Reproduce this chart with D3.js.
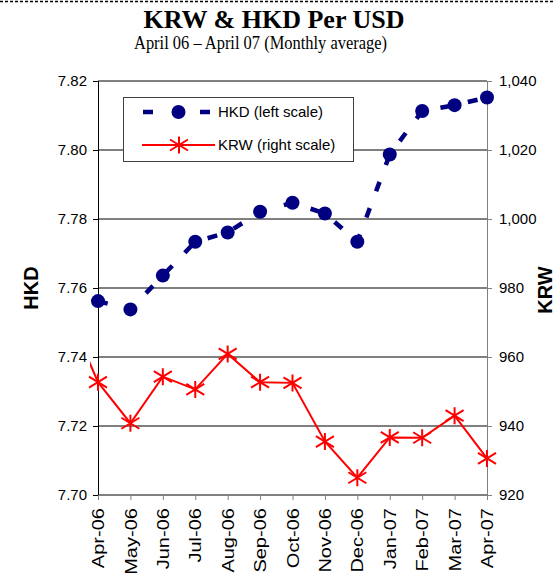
<!DOCTYPE html>
<html>
<head>
<meta charset="utf-8">
<script src="https://cdn.jsdelivr.net/npm/d3@7"></script>
<style>
  body { margin: 0; background: #fff; }
  svg { display: block; font-family: "Liberation Sans", Arial, sans-serif; }
</style>
</head>
<body>
<svg id="chart"></svg>
<script>
// months along the bottom
let months = ["Apr-06", "May-06", "Jun-06", "Jul-06", "Aug-06", "Sep-06", "Oct-06",
    "Nov-06", "Dec-06", "Jan-07", "Feb-07", "Mar-07", "Apr-07"];
// HKD per USD, left scale
let hkdValues = [7.7562, 7.7538, 7.7636, 7.7734, 7.7761, 7.7821, 7.7847,
    7.7816, 7.7734, 7.7987, 7.8113, 7.8130, 7.8152];
// KRW per USD, right scale
let krwValues = [952.7, 940.8, 954.3, 950.6, 960.9, 952.7, 952.5,
    935.5, 925.0, 936.7, 936.6, 943.0, 930.6];
// the KRW line comes in from Mar-06, just left of the plot
let krwPrevMonth = "Mar-06";
let krwPrevValue = 974.5;
let hkdTicks = [7.70, 7.72, 7.74, 7.76, 7.78, 7.80, 7.82];
let krwTicks = [920, 940, 960, 980, 1000, 1020, 1040];

let W = 555, H = 576;
let margin = {top: 81, right: 68, bottom: 81, left: 98};
let width = W - margin.left - margin.right;
let height = H - margin.top - margin.bottom;

let svgRoot = d3.select("#chart").attr("width", W).attr("height", H);

// dashed border on top
svgRoot.append("line")
    .attr("x1", 0).attr("x2", W).attr("y1", 1.5).attr("y2", 1.5)
    .attr("stroke", "#000").attr("stroke-width", 1.5)
    .attr("stroke-dasharray", "3,2");

svgRoot.append("text")
    .attr("x", 274).attr("y", 28)
    .attr("text-anchor", "middle")
    .attr("font-family", "'Liberation Serif', 'Times New Roman', serif")
    .attr("font-weight", "bold")
    .attr("font-size", 26)
    .text("KRW & HKD Per USD");

// subtitle is a bit condensed in the original
svgRoot.append("text")
    .attr("x", 260.5).attr("y", 49)
    .attr("text-anchor", "middle")
    .attr("font-family", "'Liberation Serif', 'Times New Roman', serif")
    .attr("font-size", 18.5)
    .attr("textLength", 253)
    .attr("lengthAdjust", "spacingAndGlyphs")
    .text("April 06 \u2013 April 07 (Monthly average)");

let svg = svgRoot.append("g")
    .attr("transform", "translate(" + margin.left + "," + margin.top + ")");

let x = d3.scalePoint().domain(months).range([0, width]).padding(0);
let step = x.step();
let yL = d3.scaleLinear().domain([7.70, 7.82]).range([height, 0]);
let yR = d3.scaleLinear().domain([920, 1040]).range([height, 0]);

// gridlines
svg.append("g").selectAll("line")
    .data(hkdTicks)
    .join("line")
    .attr("x1", 0).attr("x2", width)
    .attr("y1", d => yL(d)).attr("y2", d => yL(d))
    .attr("stroke", "#000").attr("stroke-width", 1);

// axes
let leftAxis = svg.append("g")
    .call(d3.axisLeft(yL).tickValues(hkdTicks).tickFormat(d3.format(".2f")).tickSize(5).tickPadding(6));
let rightAxis = svg.append("g")
    .attr("transform", "translate(" + width + ",0)")
    .call(d3.axisRight(yR).tickValues(krwTicks).tickFormat(d3.format(",")).tickSize(5).tickPadding(7));
let bottomAxis = svg.append("g")
    .attr("transform", "translate(0," + height + ")")
    .call(d3.axisBottom(x).tickSize(5));

[leftAxis, rightAxis, bottomAxis].forEach(function (a) {
    a.attr("font-family", "'Liberation Sans', Arial, sans-serif").attr("font-size", 15);
    a.selectAll("text").attr("fill", "#000");
});
leftAxis.selectAll("path, line").attr("stroke", "#000");
rightAxis.selectAll("path, line").attr("stroke", "#808080");
bottomAxis.selectAll("path, line").attr("stroke", "#808080");
// month labels are drawn tall and narrow in the original
bottomAxis.selectAll("text")
    .attr("font-size", 16)
    .attr("transform", "rotate(-90) scale(1.25,1)")
    .attr("text-anchor", "end")
    .attr("x", -10.5)
    .attr("y", 0)
    .attr("dy", "0.35em");

// axis titles
svgRoot.append("text")
    .attr("transform", "translate(38,288) rotate(-90)")
    .attr("text-anchor", "middle")
    .attr("font-weight", "bold").attr("font-size", 20)
    .text("HKD");
svgRoot.append("text")
    .attr("transform", "translate(552,290) rotate(-90)")
    .attr("text-anchor", "middle")
    .attr("font-weight", "bold").attr("font-size", 20)
    .text("KRW");

// KRW line (red, stars)
svg.append("clipPath").attr("id", "krwClip")
    .append("rect").attr("x", -8).attr("y", -20).attr("width", width + 30).attr("height", height + 40);

let krwPoints = krwValues.map((v, i) => [x(months[i]), yR(v)]);
let krwLinePoints = [[x(months[0]) - step, yR(krwPrevValue)]].concat(krwPoints);

svg.append("path")
    .attr("d", d3.line()(krwLinePoints))
    .attr("clip-path", "url(#krwClip)")
    .attr("fill", "none")
    .attr("stroke", "#ff0000")
    .attr("stroke-width", 2);

let starPath = "M0,-8.5L0,8.5M-9,-5.5L9,5.5M-9,5.5L9,-5.5";

svg.append("g").selectAll("path")
    .data(krwPoints)
    .join("path")
    .attr("transform", d => "translate(" + d[0] + "," + d[1] + ")")
    .attr("d", starPath)
    .attr("fill", "none")
    .attr("stroke", "#ff0000")
    .attr("stroke-width", 2);

// HKD line (navy, dashed, circles)
let hkdPoints = hkdValues.map((v, i) => [x(months[i]), yL(v)]);

svg.append("path")
    .attr("d", d3.line()(hkdPoints))
    .attr("fill", "none")
    .attr("stroke", "#000080")
    .attr("stroke-width", 4.5)
    .attr("stroke-dasharray", "10,18");

svg.append("g").selectAll("circle")
    .data(hkdPoints)
    .join("circle")
    .attr("cx", d => d[0])
    .attr("cy", d => d[1])
    .attr("r", 7)
    .attr("fill", "#000080");

// legend
let legend = svgRoot.append("g");
legend.append("rect")
    .attr("x", 123.5).attr("y", 97.5).attr("width", 230).attr("height", 64)
    .attr("fill", "#fff").attr("stroke", "#404040").attr("stroke-width", 1);

legend.append("line")
    .attr("x1", 143).attr("x2", 211).attr("y1", 112).attr("y2", 112)
    .attr("stroke", "#000080").attr("stroke-width", 4.5)
    .attr("stroke-dasharray", "10,47");
legend.append("circle")
    .attr("cx", 178.5).attr("cy", 112).attr("r", 7).attr("fill", "#000080");
legend.append("text")
    .attr("x", 218).attr("y", 112).attr("dy", "0.35em")
    .attr("font-size", 15)
    .text("HKD (left scale)");

legend.append("line")
    .attr("x1", 142).attr("x2", 215).attr("y1", 145).attr("y2", 145)
    .attr("stroke", "#ff0000").attr("stroke-width", 2);
legend.append("path")
    .attr("transform", "translate(179,145)")
    .attr("d", starPath)
    .attr("fill", "none").attr("stroke", "#ff0000").attr("stroke-width", 2);
legend.append("text")
    .attr("x", 218).attr("y", 145).attr("dy", "0.35em")
    .attr("font-size", 15)
    .text("KRW (right scale)");
</script>
</body>
</html>
